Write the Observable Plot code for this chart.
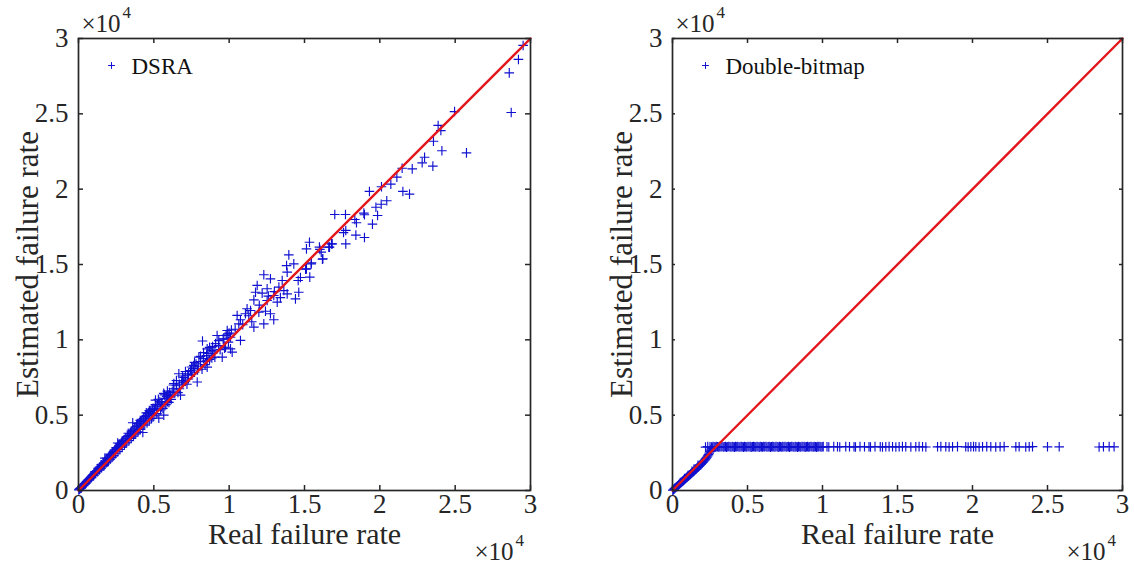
<!DOCTYPE html>
<html>
<head>
<meta charset="utf-8">
<script src="https://cdn.jsdelivr.net/npm/d3@7"></script>
<script src="https://cdn.jsdelivr.net/npm/@observablehq/plot@0.6"></script>
<style>
html, body { margin: 0; padding: 0; background: #fff; }
#wrap { display: flex; width: 1134px; height: 564px; overflow: hidden; }
</style>
</head>
<body>
<div id="wrap"></div>
<script>
// ---------- data ----------
const tickValues = [0, 5000, 10000, 15000, 20000, 25000, 30000];
const tickLabels = ["0", "0.5", "1", "1.5", "2", "2.5", "3"];
const axisDomain = [0, 30000];
const refLine = [0, 30000];
const xLabel = "Real failure rate";
const yLabel = "Estimated failure rate";
const expBase = "×10";
const expPower = "4";
const seriesNames = ["DSRA", "Double-bitmap"];

const dsraReal = [
  20,60,100,140,180,220,260,300,340,380,
  420,460,500,540,580,620,660,700,740,780,
  820,860,900,940,980,1020,1060,1100,1140,1180,
  1220,1260,1300,1340,1380,1420,1460,1500,1540,1580,
  1620,1660,1700,1740,1750,1780,1820,1860,1900,1940,
  1980,2020,2060,2100,2140,2180,2220,2260,2300,2340,
  2380,2420,2460,2500,2550,2600,2620,2650,2700,2750,
  2800,2850,2900,2950,3000,3050,3100,3150,3200,3250,
  3300,3350,3400,3450,3500,3550,3600,3620,3650,3700,
  3750,3800,3850,3900,3950,4000,4050,4100,4150,4200,
  4270,4300,4350,4400,4450,4500,4550,4600,4650,4700,
  4750,4800,4850,4900,4950,5000,5050,5110,5150,5200,
  5250,5330,5400,5450,5500,5550,5600,5660,5660,5750,
  5800,5850,5900,5950,6000,6050,6100,6150,6220,6300,
  6330,6400,6500,6600,6660,6700,6770,6850,6880,6950,
  7000,7100,7200,7250,7300,7430,7500,7600,7650,7700,
  7800,7880,7950,7990,8100,8200,8230,8300,8400,8500,
  8540,8540,8600,8700,8800,8850,8900,9000,9050,9100,
  9200,9300,9310,9400,9540,9600,9650,9700,9760,9800,
  9870,9910,9950,10000,10090,10090,10150,10200,10400,10530,
  10640,10750,10750,10900,11080,11190,11300,11420,11500,11640,
  11640,11750,11860,11970,12000,12190,12300,12300,12410,12520,
  12520,12600,12740,12740,12960,12960,13000,13190,13300,13400,
  13520,13630,13810,13850,13850,13960,14290,14400,14580,14620,
  14730,15070,15130,15130,15330,15350,15440,15460,15990,16020,
  16110,16190,16220,16610,16660,16790,16840,17010,17590,17720,
  17740,17740,18340,18410,18450,18940,18980,18980,19310,19510,
  19740,19850,20090,20110,20460,20730,21130,21480,21530,21970,
  22150,22810,22970,23520,23560,23870,24050,24120,24960,25750,
  28590,28720,29200,29510,
  1100,1300,1500,1700,1900,2100,2300,2500,2700,2900,
  3100,3300,3500,3700,3900,4100,4300,4500,4700,4900,
  5100,5300,5500,5700,5900,6100,6300,6500,6700,6900,
  7100,7300,7500,7700,7900,8100,8300,8500,8700,8900
];
const dsraEst = [
  40,90,120,170,160,260,280,330,320,420,
  460,500,480,600,620,650,720,690,810,830,
  880,850,980,1010,1050,1000,1150,1180,1130,1280,
  1300,1250,1400,1430,1360,1540,1570,1490,1670,1690,
  1610,1800,1830,1730,2150,1930,1950,1850,2060,2100,
  1960,2200,2300,2080,2350,2380,2200,2480,2550,2320,
  2620,2700,2440,2760,2820,3150,2580,2900,2980,2720,
  3080,3150,2880,3250,3320,3020,3420,3480,3170,3580,
  3650,3310,3750,3800,3460,3900,4500,3980,3610,4080,
  4150,3760,4250,4300,3900,4420,4480,4050,4580,4650,
  3850,4750,4800,4350,4900,4980,4480,5100,5150,4620,
  5250,5300,4780,5400,5450,4950,5350,6000,5600,5100,
  5700,4800,5900,5350,5750,5860,5450,6450,5000,6100,
  5700,6250,5900,6350,5850,6500,6200,6050,6530,6750,
  7100,6500,6950,6500,7750,7050,6330,7300,7200,7150,
  7500,7250,7050,7650,7750,7960,7700,8100,8300,7850,
  8400,7200,8250,8850,8550,8050,9920,8750,8350,8950,
  9400,8190,9100,8700,9300,8800,9550,9250,8850,9750,
  10290,9620,9950,9350,8850,10050,10060,9450,9510,10300,
  10620,10400,9850,10450,10170,9400,10650,9180,10700,11620,
  11060,11330,9960,11000,11730,12060,11600,11950,11200,10840,
  12650,13160,13610,11840,12300,13100,14320,11060,11900,13390,
  12610,12900,14050,11730,12940,11330,13200,12500,13500,12800,
  13940,13270,14930,14490,13050,15640,15040,12720,13940,13160,
  14140,14690,14710,16040,16480,14160,15040,15110,16150,16000,
  15820,15350,15380,16150,16150,16370,16370,18320,17120,18320,
  17260,16370,17990,16950,17770,18410,18300,16790,19850,17680,
  18800,18250,19000,20160,19230,20330,20800,21390,19850,19670,
  21350,21750,22120,21530,23180,24230,23890,22550,25150,22410,
  27720,25090,28610,29540,
  1250,1480,1700,1650,2150,2400,2300,2850,3100,3300,
  3150,3800,3950,3750,4450,4650,4350,5150,5300,5000,
  5700,6050,5550,6350,6600,6300,7000,7300,6750,7600,
  7900,7400,8200,8500,8000,8900,9150,8600,9500,9100
];

const dbRiseReal = [
  20,60,100,150,200,250,300,350,400,450,
  500,550,600,650,700,750,800,800,850,900,
  950,1000,1050,1100,1150,1200,1250,1300,1300,1350,
  1400,1450,1500,1550,1600,1650,1700,1700,1750,1800,
  1850,1900,1950,2000,2050,2100,2150,2200,2250,2300,
  2350,2400,2450,2500,2550,2600,2650
];
const dbRiseEst = [
  15,50,90,140,180,235,270,320,370,410,
  460,500,550,600,640,690,730,800,780,820,
  870,910,950,1000,1040,1090,1130,1180,1280,1220,
  1270,1320,1360,1420,1450,1510,1540,1680,1600,1640,
  1700,1730,1800,1850,1900,1960,2020,2080,2150,2220,
  2300,2380,2480,2580,2680,2780,2850
];
const dbCapReal = [
  2200,2350,2500,2600,2700,2780,2850,2920,3000,3080,
  3150,3230,3300,3380,3450,3530,3600,3680,3750,3830,
  3900,3980,4050,4130,4200,4280,4350,4430,4500,4580,
  4650,4730,4800,4880,4950,5030,5100,5180,5250,5330,
  5400,5480,5550,5630,5700,5780,5850,5930,6000,6080,
  6150,6230,6300,6380,6450,6530,6600,6680,6750,6830,
  6900,6980,7050,7130,7200,7280,7350,7430,7500,7580,
  7650,7730,7800,7880,7950,8030,8100,8180,8250,8330,
  8400,8480,8550,8630,8700,8780,8850,8930,9000,9080,
  9150,9230,9300,9380,9450,9530,9600,9680,9750,9830,
  9900,9980,10050,10300,10420,10750,11000,11150,11550,11800,
  12100,12200,12500,12800,13100,13200,13500,13850,14000,14220,
  14440,14670,14890,15110,15330,15550,15890,16220,16440,16670,
  16890,17670,17890,18220,18440,18670,19000,19550,19710,19890,
  20070,20220,20440,20670,20950,21220,21550,21840,22110,22890,
  23110,23550,23780,24000,25000,25780,28440,28730,29110,29440
];
const dbCapEst = [
  2880,2910,2900,2890,2920,2900,2880,2910,2900,2890,
  2910,2900,2920,2890,2900,2910,2880,2900,2920,2900,
  2890,2910,2900,2880,2910,2900,2920,2890,2900,2910,
  2900,2880,2910,2900,2890,2920,2900,2910,2880,2900,
  2910,2900,2890,2920,2900,2880,2910,2900,2890,2910,
  2900,2920,2890,2900,2910,2880,2900,2910,2900,2890,
  2920,2900,2880,2910,2900,2890,2910,2900,2920,2890,
  2900,2910,2880,2900,2920,2900,2890,2910,2900,2880,
  2910,2900,2890,2920,2900,2910,2880,2900,2910,2890,
  2900,2920,2900,2890,2910,2900,2880,2910,2900,2920,
  2890,2900,2910,2900,2890,2910,2900,2890,2910,2900,
  2900,2890,2910,2900,2900,2890,2910,2900,2890,2900,
  2910,2900,2890,2900,2910,2900,2890,2900,2910,2900,
  2890,2900,2910,2900,2890,2900,2910,2900,2890,2900,
  2910,2900,2890,2900,2910,2900,2890,2900,2910,2900,
  2900,2890,2900,2910,2900,2900,2890,2900,2910,2900
];

// ---------- drawing ----------
const FONT = "'Liberation Serif', 'Times New Roman', Times, serif";
const INK = "#262626";
const BLUE = "#1010d0";
const RED = "#e3161c";

const plusSymbol = {
  draw(ctx, size) {
    const r = Math.sqrt(size / Math.PI);
    ctx.moveTo(-r, 0); ctx.lineTo(r, 0);
    ctx.moveTo(0, -r); ctx.lineTo(0, r);
  }
};

const fmt = d => tickLabels[tickValues.indexOf(d)];

function panel(reals, ests, name, marginLeft, marginRight) {
  const pts = [];
  reals.forEach((arr, k) => arr.forEach((x, i) => pts.push({x, y: ests[k][i]})));
  const frameH = 564 - 38 - 74;
  const tickLen = 5;
  return Plot.plot({
    width: 567,
    height: 564,
    marginLeft, marginRight,
    marginTop: 38,
    marginBottom: 74,
    style: {fontFamily: FONT, background: "white", color: INK, overflow: "visible"},
    x: {domain: axisDomain, label: null},
    y: {domain: axisDomain, label: null},
    marks: [
      Plot.dot(pts, {x: "x", y: "y", symbol: plusSymbol, r: 4.8, stroke: BLUE, strokeWidth: 1.15, fill: "none"}),
      Plot.line(refLine, {x: d => d, y: d => d, stroke: RED, strokeWidth: 2.4}),
      // inward ticks on all four sides
      Plot.tickX(tickValues, {x: d => d, insetTop: frameH - tickLen, stroke: INK, strokeWidth: 1.5}),
      Plot.tickX(tickValues, {x: d => d, insetBottom: frameH - tickLen, stroke: INK, strokeWidth: 1.5}),
      Plot.tickY(tickValues, {y: d => d, insetRight: frameH - tickLen, stroke: INK, strokeWidth: 1.5}),
      Plot.tickY(tickValues, {y: d => d, insetLeft: frameH - tickLen, stroke: INK, strokeWidth: 1.5}),
      Plot.frame({stroke: INK, strokeWidth: 1.7}),
      Plot.axisX(tickValues, {tickSize: 0, tickPadding: 3, fontSize: 27, tickFormat: fmt, fill: INK}),
      Plot.axisY(tickValues, {tickSize: 0, tickPadding: 10, fontSize: 27, tickFormat: fmt, fill: INK}),
      // axis titles
      Plot.text([xLabel], {frameAnchor: "bottom", dy: 44, fontSize: 30, fill: INK, textAnchor: "middle", lineAnchor: "middle"}),
      Plot.text([yLabel], {frameAnchor: "left", dx: -50, rotate: -90, fontSize: 31, fill: INK, textAnchor: "middle", lineAnchor: "middle"}),
      // exponent labels
      Plot.text([expBase], {frameAnchor: "top-left", dx: 3, dy: -15, fontSize: 25, textAnchor: "start", fill: INK, lineAnchor: "middle"}),
      Plot.text([expPower], {frameAnchor: "top-left", dx: 44, dy: -26, fontSize: 17, textAnchor: "start", fill: INK, lineAnchor: "middle"}),
      Plot.text([expBase], {frameAnchor: "bottom-right", dx: -56, dy: 61, fontSize: 25, textAnchor: "start", fill: INK, lineAnchor: "middle"}),
      Plot.text([expPower], {frameAnchor: "bottom-right", dx: -15, dy: 50, fontSize: 17, textAnchor: "start", fill: INK, lineAnchor: "middle"}),
      // legend
      Plot.dot([name], {frameAnchor: "top-left", dx: 33, dy: 27, symbol: plusSymbol, r: 3.4, stroke: BLUE, strokeWidth: 1, fill: "none"}),
      Plot.text([name], {frameAnchor: "top-left", dx: 53, dy: 28, fontSize: 23, textAnchor: "start", fill: "#111", lineAnchor: "middle"})
    ]
  });
}

const wrap = document.getElementById("wrap");
wrap.appendChild(panel([dsraReal], [dsraEst], seriesNames[0], 78, 37));
wrap.appendChild(panel([dbRiseReal, dbCapReal], [dbRiseEst, dbCapEst], seriesNames[1], 105, 12));
</script>
</body>
</html>
